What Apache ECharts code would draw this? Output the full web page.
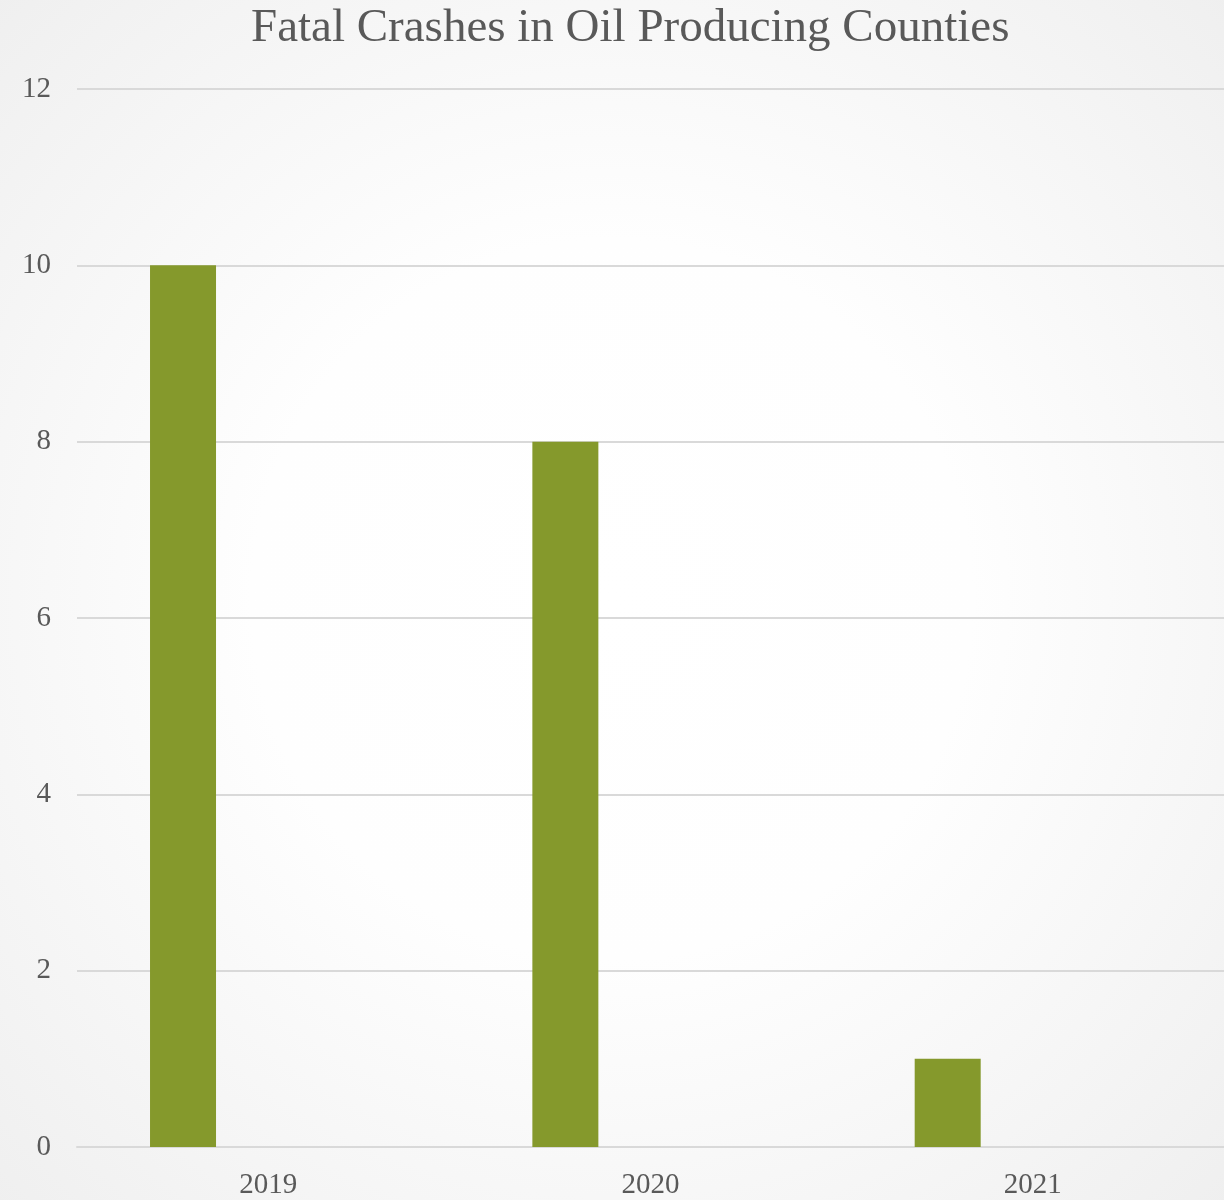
<!DOCTYPE html>
<html><head><meta charset="utf-8">
<script src="https://cdn.jsdelivr.net/npm/echarts@6/dist/echarts.min.js"></script>
<style>html,body{margin:0;padding:0}#c{width:1224px;height:1200px}</style>
</head><body><div id="c"></div>
<script>
const categories = ['2019', '2020', '2021'];
const fatalCrashes = [10, 8, 1];
const emptySeries = [null, null, null];
const yTicks = [0, 2, 4, 6, 8, 10, 12];

const chart = echarts.init(document.getElementById('c'));
const font = '"Liberation Serif", "DejaVu Serif", serif';
chart.setOption({
  animation: false,
  backgroundColor: {
    type: 'radial', x: 0.5, y: 0.5, r: 0.75,
    colorStops: [{offset: 0, color: '#ffffff'}, {offset: 0.4, color: '#fefefe'}, {offset: 1, color: '#eeeeee'}]
  },
  title: {
    text: 'Fatal Crashes in Oil Producing Counties',
    left: 246, top: 0,
    textStyle: {fontFamily: font, fontWeight: 'normal', fontSize: 47, color: '#595959'}
  },
  grid: {left: 77, right: 0, top: 89, bottom: 51},
  xAxis: {
    type: 'category', data: categories,
    axisLine: {lineStyle: {color: '#d9d9d9', width: 2}},
    axisTick: {show: false},
    axisLabel: {fontFamily: font, fontSize: 29, color: '#595959', margin: 24}
  },
  yAxis: {
    type: 'value', min: yTicks[0], max: yTicks[yTicks.length - 1], interval: 2,
    axisLine: {show: false}, axisTick: {show: false},
    splitLine: {lineStyle: {color: '#d9d9d9', width: 2}},
    axisLabel: {fontFamily: font, fontSize: 29, color: '#595959', margin: 26}
  },
  series: [
    {type: 'bar', data: fatalCrashes, barWidth: 66, barGap: '158%', itemStyle: {color: '#85992c'}},
    {type: 'bar', data: emptySeries, barWidth: 66, itemStyle: {color: '#4f81bd'}}
  ]
});
</script></body></html>
